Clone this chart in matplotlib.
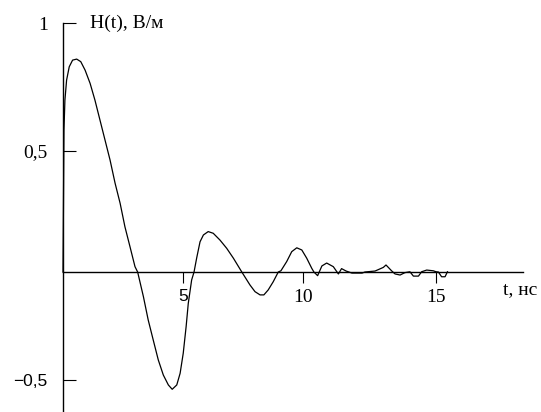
import numpy as np
import matplotlib
matplotlib.use("Agg")
import matplotlib.pyplot as plt

# H(t) (t in ns, H in V/m)
t = [0.0, 0.04, 0.08, 0.15, 0.26, 0.40, 0.57, 0.74, 0.92, 1.13,
     1.33, 1.54, 1.75, 1.96, 2.17, 2.38, 2.58, 2.79, 3.00, 3.11,
     3.35, 3.55, 3.76, 3.97, 4.18, 4.39, 4.55, 4.74, 4.88, 5.01,
     5.13, 5.22, 5.36, 5.46,
     5.57, 5.71, 5.85, 6.05, 6.26, 6.54, 6.82, 7.10, 7.45,
     7.79, 8.00, 8.21, 8.37, 8.55, 8.76, 8.97,
     9.08, 9.32, 9.53, 9.74, 9.95, 10.14, 10.33, 10.41,
     10.55, 10.71, 10.89, 11.14, 11.33, 11.45, 11.62, 11.84, 12.22, 12.33,
     12.71, 13.02, 13.12, 13.33, 13.46, 13.65, 13.83, 14.02, 14.15, 14.34,
     14.46, 14.65, 14.90, 15.00, 15.09, 15.21, 15.34, 15.43]
h = [0.0, 0.582, 0.699, 0.777, 0.829, 0.855, 0.859, 0.849, 0.816, 0.764,
     0.699, 0.621, 0.543, 0.463, 0.367, 0.284, 0.187, 0.105, 0.022, 0.0,
     -0.114, -0.222, -0.315, -0.407, -0.477, -0.523, -0.543, -0.523, -0.469, -0.376,
     -0.253, -0.145, -0.037, 0.0,
     0.058, 0.125, 0.153, 0.167, 0.160, 0.132, 0.098, 0.057, 0.0,
     -0.060, -0.091, -0.106, -0.106, -0.083, -0.045, 0.0,
     0.005, 0.043, 0.084, 0.100, 0.091, 0.057, 0.015, 0.0,
     -0.017, 0.025, 0.037, 0.022, -0.009, 0.014, 0.004, -0.005, -0.005, 0.0,
     0.004, 0.019, 0.029, 0.005, -0.009, -0.014, -0.003, 0.001, -0.019, -0.019,
     0.001, 0.008, 0.005, 0.001, 0.0, -0.022, -0.022, 0.001]

x_ticks = [5, 10, 15]
x_tick_labels = ["5", "10", "15"]
y_ticks = [-0.5, 0.5, 1]
y_tick_labels = ["\u22120,5", "0,5", "1"]

# the original graph's axes are not evenly spaced -> piecewise mapping data -> pixels
x_data_pts = [-5, 0, 5, 10, 15, 20]
x_pix_pts = [-57, 63, 183, 303, 436, 569]
y_data_pts = [-1, -0.5, 0, 0.5, 1, 1.5]
y_pix_pts = [488, 380, 272, 151, 23, -105]
y_neg_pix = [-p for p in y_pix_pts]


def fx(v):
    return np.interp(v, x_data_pts, x_pix_pts)


def fx_inv(p):
    return np.interp(p, x_pix_pts, x_data_pts)


def fy(v):
    return np.interp(v, y_data_pts, y_neg_pix)


def fy_inv(p):
    return np.interp(p, y_neg_pix, y_data_pts)


W, H = 541, 412
fig = plt.figure(figsize=(W / 100, H / 100), dpi=100)
ax = fig.add_axes([0, 0, 1, 1])
ax.set_xscale("function", functions=(fx, fx_inv))
ax.set_yscale("function", functions=(fy, fy_inv))
ax.set_xlim(fx_inv(0), fx_inv(W))
ax.set_ylim(fy_inv(-H), fy_inv(0))

ax.plot(t, h, color="black", lw=0.9)

ax.spines["top"].set_visible(False)
ax.spines["right"].set_visible(False)
ax.spines["left"].set_position(("data", 0))
ax.spines["bottom"].set_position(("data", 0))
ax.spines["left"].set_bounds(fy_inv(-H), 1)
ax.spines["bottom"].set_bounds(0, fx_inv(523))
for s in ("left", "bottom"):
    ax.spines[s].set_linewidth(1.0)

ax.set_xticks(x_ticks, x_tick_labels)
ax.set_yticks(y_ticks, y_tick_labels)
ax.tick_params(axis="x", direction="out", length=8, width=0.8, pad=4)
ax.tick_params(axis="y", direction="in", length=9, width=0.8, pad=11)

for lab in ax.get_xticklabels() + ax.get_yticklabels():
    if lab.get_text() in ("5", "\u22120,5"):
        lab.set_fontfamily("Liberation Sans")
        lab.set_fontsize(12.5)
    else:
        lab.set_fontfamily("Liberation Serif")
        lab.set_fontsize(14)

fig.text(90 / W, 1 - 23 / H, "H(t), В/м", family="Liberation Serif",
         fontsize=14, va="center", ha="left")
fig.text(503 / W, 1 - 290 / H, "t, нс", family="Liberation Serif",
         fontsize=14, va="center", ha="left")

fig.savefig("out.png", dpi=100)
